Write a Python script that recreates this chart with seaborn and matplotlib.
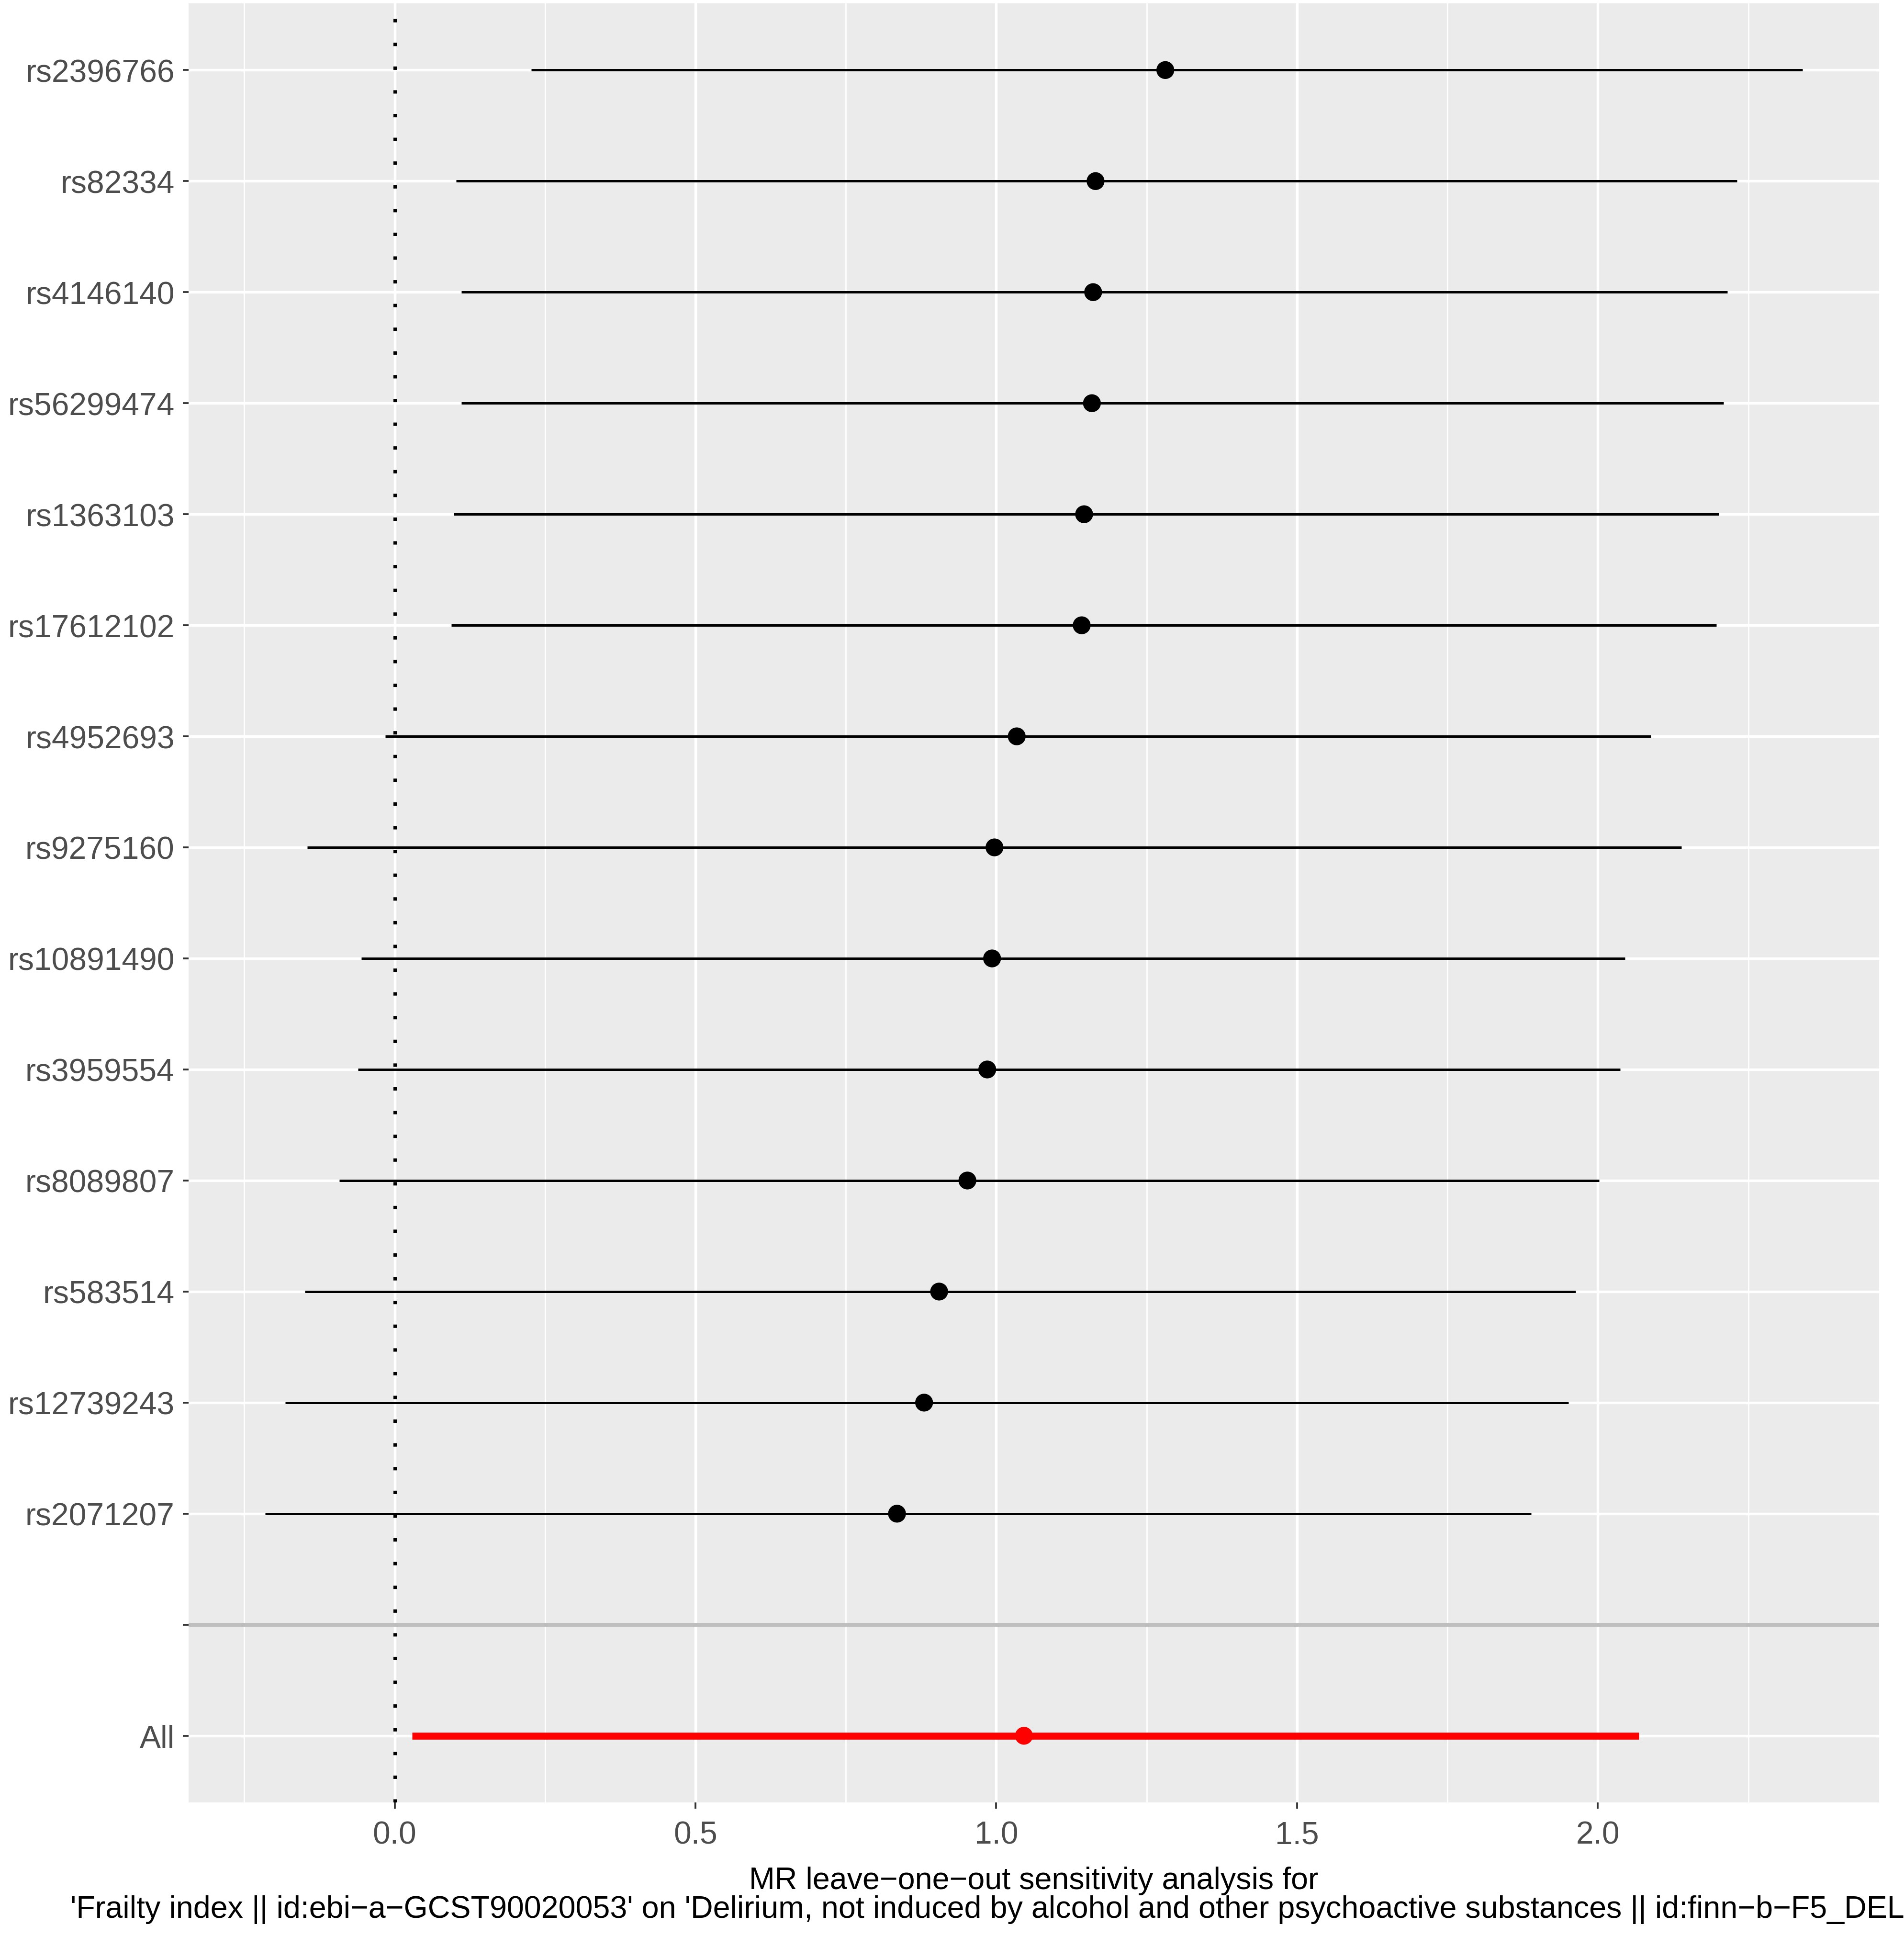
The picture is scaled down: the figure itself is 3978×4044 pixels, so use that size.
import numpy as np
import pandas as pd
import matplotlib
matplotlib.use("Agg")
import matplotlib.pyplot as plt
import seaborn as sns

# SNPs top to bottom, then a blank spacer row and the combined estimate
snps = ["rs2396766", "rs82334", "rs4146140", "rs56299474", "rs1363103",
        "rs17612102", "rs4952693", "rs9275160", "rs10891490", "rs3959554",
        "rs8089807", "rs583514", "rs12739243", "rs2071207", "", "All"]
b = [1.281, 1.165, 1.161, 1.159, 1.146, 1.142, 1.034, 0.997, 0.993, 0.985,
     0.952, 0.905, 0.880, 0.835, np.nan, 1.046]
lo = [0.227, 0.102, 0.111, 0.111, 0.098, 0.094, -0.016, -0.145, -0.055, -0.061,
      -0.092, -0.149, -0.182, -0.215, np.nan, 0.029]
up = [2.340, 2.231, 2.215, 2.209, 2.201, 2.197, 2.088, 2.139, 2.045, 2.037,
      2.002, 1.963, 1.951, 1.889, np.nan, 2.068]

df = pd.DataFrame({"SNP": snps, "b": b, "lo": lo, "up": up})
df["ypos"] = len(df) - np.arange(len(df))
df["is_all"] = df["SNP"] == "All"

sns.set_theme(style="darkgrid")
plt.rcParams["font.family"] = ["Liberation Sans", "DejaVu Sans"]

fig, ax = plt.subplots(figsize=(13.26, 13.483), dpi=300)
fig.subplots_adjust(left=0.099, right=0.987, top=0.998, bottom=0.069)
ax.set_facecolor("#EBEBEB")

# ggplot-like grid
ax.set_axisbelow(True)
ax.grid(False)
xmin = np.nanmin(df["lo"]); xmax = np.nanmax(df["up"])
pad = 0.05 * (xmax - xmin)
ax.set_xlim(xmin - pad, xmax + pad)
ax.set_ylim(0.4, len(df) + 0.6)
ax.set_xticks([0.0, 0.5, 1.0, 1.5, 2.0])
ax.set_xticks(np.arange(-0.25, 2.5, 0.5), minor=True)
ax.set_yticks(df["ypos"])
ax.set_yticklabels(df["SNP"])
ax.grid(True, which="major", color="white", linewidth=1.3)
ax.grid(True, which="minor", axis="x", color="white", linewidth=0.65)

# spacer line
blank_y = df.loc[df["SNP"] == "", "ypos"].iloc[0]
ax.axhline(blank_y, color="#BEBEBE", linewidth=1.9, zorder=2)

# null line
ax.axvline(0, color="black", linewidth=1.7, linestyle=(0, (1, 6)), zorder=2)

single = df[~df["is_all"] & df["b"].notna()]
comb = df[df["is_all"]]
ax.hlines(single["ypos"], single["lo"], single["up"], color="black", linewidth=1.2, zorder=3)
ax.hlines(comb["ypos"], comb["lo"], comb["up"], color="red", linewidth=3.5, zorder=3)
sns.scatterplot(data=single, x="b", y="ypos", color="black", s=80, edgecolor="none",
                ax=ax, zorder=4, legend=False)
sns.scatterplot(data=comb, x="b", y="ypos", color="red", s=80, edgecolor="none",
                ax=ax, zorder=4, legend=False)

for s in ax.spines.values():
    s.set_visible(False)
ax.tick_params(axis="both", which="major", length=3, width=0.9, color="#333333",
               labelcolor="#4D4D4D", labelsize=15.8, bottom=True, left=True)
ax.tick_params(axis="y", pad=4)
ax.tick_params(axis="x", pad=6)
ax.tick_params(axis="x", which="minor", length=0)

ax.set_ylabel("")
ax.set_xlabel("MR leave\u2212one\u2212out sensitivity analysis for\n"
              "'Frailty index || id:ebi\u2212a\u2212GCST90020053' on 'Delirium, not induced by alcohol "
              "and other psychoactive substances || id:finn\u2212b\u2212F5_DELIRIUM'",
              fontsize=15.5, color="black", labelpad=8, linespacing=1.0)

fig.savefig("out.png", dpi=300)
